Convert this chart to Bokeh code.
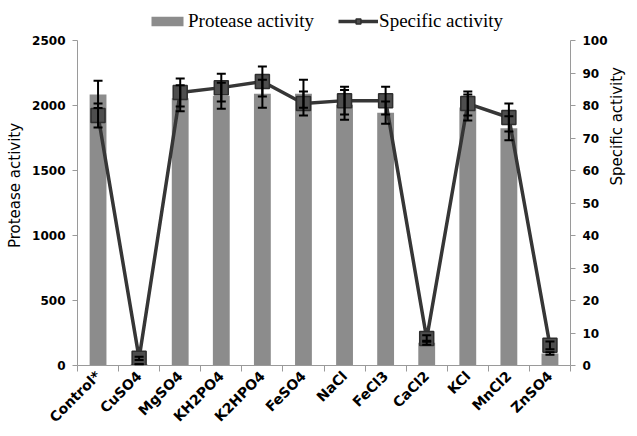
import math
from bokeh.plotting import figure
from bokeh.models import (ColumnDataSource, Range1d, LinearAxis, FixedTicker,
                          SingleIntervalTicker, Whisker, TeeHead, Legend, LegendItem)
from bokeh.embed import file_html
from bokeh.resources import INLINE

categories = ["Control*", "CuSO4", "MgSO4", "KH2PO4", "K2HPO4", "FeSO4",
              "NaCl", "FeCl3", "CaCl2", "KCl", "MnCl2", "ZnSO4"]
protease_activity = [2085, 10, 2055, 2075, 2090, 2090, 2005, 1945, 175, 1985, 1825, 92]
protease_error = [105, 0, 100, 100, 108, 108, 115, 85, 15, 100, 92, 10]
specific_activity = [76.9, 2.2, 84.0, 85.5, 87.4, 80.6, 81.5, 81.5, 8.3, 80.6, 76.3, 6.2]
specific_error = [3.7, 0.5, 4.3, 4.3, 4.6, 3.7, 4.3, 4.3, 1.0, 3.7, 4.3, 1.2]
left_ticks = [0, 500, 1000, 1500, 2000, 2500]
left_max = 2500
right_max = 100

W, H = 637, 436
TOP, BOTTOM, LEFT, RIGHT = 5, 71, 77, 62
frame_h = H - TOP - BOTTOM          # 360 px
axis_h = 325                         # pixel height of the 0..max axis span
ext = frame_h / axis_h               # extra head-room above the axes for the legend

xs = list(range(len(categories)))
src = ColumnDataSource(dict(
    x=xs,
    pa=protease_activity,
    pa_lo=[v - e for v, e in zip(protease_activity, protease_error)],
    pa_hi=[v + e for v, e in zip(protease_activity, protease_error)],
    sa=specific_activity,
    sa_lo=[v - e for v, e in zip(specific_activity, specific_error)],
    sa_hi=[v + e for v, e in zip(specific_activity, specific_error)],
))

p = figure(width=W, height=H, output_backend="svg", toolbar_location=None,
           x_range=Range1d(-0.5, len(categories) - 0.5),
           y_range=Range1d(0, left_max * ext),
           min_border_left=LEFT, min_border_right=RIGHT, min_border_top=TOP,
           min_border_bottom=BOTTOM)
p.extra_y_ranges = {"sa": Range1d(0, right_max * ext)}
p.outline_line_color = None
p.xgrid.visible = False
p.ygrid.visible = False
p.background_fill_color = "white"
p.border_fill_color = "white"

AX = "#9a9a9a"
TICKFONT = "DejaVu Sans"

# x axis
xa = p.xaxis[0]
xa.ticker = FixedTicker(ticks=xs, minor_ticks=[i - 0.5 for i in range(len(categories) + 1)])
xa.major_label_overrides = {i: c for i, c in zip(xs, categories)}
xa.major_label_orientation = math.pi / 4
xa.major_tick_out = 0
xa.major_tick_in = 0
xa.minor_tick_out = 6
xa.minor_tick_in = 0
xa.minor_tick_line_color = AX
xa.axis_line_color = AX
xa.major_label_text_font = TICKFONT
xa.major_label_text_font_style = "bold"
xa.major_label_text_font_size = "14px"
xa.major_label_text_color = "black"
xa.major_label_standoff = 2

# left axis
ya = p.yaxis[0]
ya.ticker = FixedTicker(ticks=left_ticks)
ya.bounds = (0, left_max)
ya.axis_label = "Protease activity"
ya.axis_label_text_font = TICKFONT
ya.axis_label_text_font_style = "normal"
ya.axis_label_text_font_size = "15px"
ya.axis_label_text_color = "black"
ya.axis_label_standoff = 5
ya.major_label_text_font = TICKFONT
ya.major_label_text_font_style = "bold"
ya.major_label_text_font_size = "12px"
ya.major_label_text_color = "black"
ya.major_label_standoff = 7
ya.major_tick_out = 5
ya.major_tick_in = 0
ya.minor_tick_line_color = None
ya.axis_line_color = AX
ya.major_tick_line_color = AX

# right axis
ra = LinearAxis(y_range_name="sa", ticker=SingleIntervalTicker(interval=10),
                axis_label="Specific activity", bounds=(0, right_max))
if hasattr(ra, "axis_label_orientation"):
    ra.axis_label_orientation = math.pi / 2
ra.axis_label_text_font = TICKFONT
ra.axis_label_text_font_style = "normal"
ra.axis_label_text_font_size = "15px"
ra.axis_label_text_color = "black"
ra.axis_label_standoff = 6
ra.major_label_text_font = TICKFONT
ra.major_label_text_font_style = "bold"
ra.major_label_text_font_size = "12px"
ra.major_label_text_color = "black"
ra.major_label_standoff = 7
ra.major_tick_out = 5
ra.major_tick_in = 0
ra.minor_tick_line_color = None
ra.axis_line_color = AX
ra.major_tick_line_color = AX
p.add_layout(ra, "right")

# bars
bars = p.vbar(x="x", top="pa", width=0.41, source=src, fill_color="#8c8c8c",
              line_color=None)

# specific activity line
ln = p.line(x="x", y="sa", source=src, y_range_name="sa", line_color="#363636",
            line_width=3.5)
mk = p.scatter(x="x", y="sa", source=src, y_range_name="sa", marker="square",
               size=14, fill_color="#4e4e4e", line_color="#2e2e2e", line_width=1.5)

for up, lo, rng in (("pa_hi", "pa_lo", "default"), ("sa_hi", "sa_lo", "sa")):
    p.add_layout(Whisker(source=src, base="x", upper=up, lower=lo,
                         y_range_name=rng, level="annotation",
                         line_color="black", line_width=2,
                         upper_head=TeeHead(size=9, line_width=2, line_color="black"),
                         lower_head=TeeHead(size=9, line_width=2, line_color="black")))

# legend-only marker (smaller than plotted markers; its point is not drawn)
mk_leg = p.scatter(x=[float("nan")], y=[float("nan")], y_range_name="sa",
                   marker="square", size=9,
                   fill_color="#4e4e4e", line_color="#2e2e2e", line_width=1.5)

legend = Legend(items=[LegendItem(label="Protease activity", renderers=[bars]),
                       LegendItem(label="Specific activity", renderers=[ln, mk_leg])],
                orientation="horizontal", location=(70, frame_h - 27),
                label_text_font="Liberation Serif", label_text_font_size="19px",
                label_text_color="black",
                glyph_width=40, glyph_height=12, spacing=24, padding=0, margin=0,
                label_standoff=1, border_line_color=None, background_fill_alpha=0)
p.add_layout(legend, "center")

open("out.html", "w").write(file_html(p, INLINE))
